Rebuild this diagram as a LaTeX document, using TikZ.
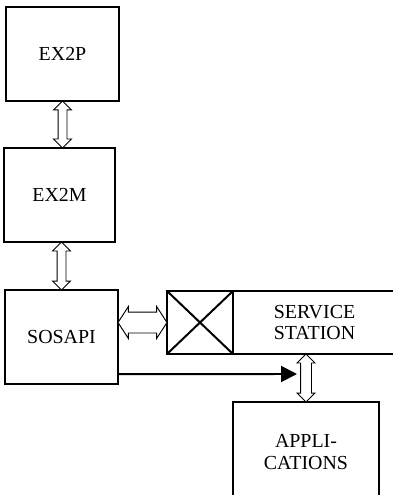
\documentclass[tikz,border=0pt]{standalone}
\usepackage{fontspec}
\setmainfont{Liberation Serif}
\usetikzlibrary{shapes.arrows,arrows.meta}
\begin{document}
\begin{tikzpicture}[x=0.3mm,y=-0.3mm,
box/.style={draw, line width=1.7pt, inner sep=0pt, outer sep=0pt, align=center,
  font=\fontsize{17}{18}\selectfont},
dbl/.style={double arrow, draw, fill=white, line width=0.8pt, inner xsep=0pt, inner ysep=1.2mm,
  sloped, double arrow head extend=1.35mm, minimum height=14.1mm}]
\useasboundingbox (0,0) rectangle (393,495);
\node[box, minimum width=33.9mm, minimum height=28.2mm] (ex2p) at (62.5,54) {EX2P};
\node[box, minimum width=33.3mm, minimum height=28.2mm] (ex2m) at (59.5,195) {EX2M};
\node[box, minimum width=33.9mm, minimum height=28.2mm] (sosapi) at (61.5,337) {SOSAPI};
\node[box, minimum width=19.8mm, minimum height=18.9mm] (cross) at (200,322.5) {};
\node[box, minimum width=48.9mm, minimum height=18.9mm] (station) at (314.5,322.5) {SERVICE\\STATION};
\node[box, minimum width=43.8mm, minimum height=30mm] (apps) at (306,452) {APPLI-\\CATIONS};
\draw[line width=1.7pt] (cross.north west)--(cross.south east) (cross.south west)--(cross.north east);
\path (ex2p.south) -- node[dbl]{} (ex2p.south |- ex2m.north);
\path (sosapi.north |- ex2m.south) -- node[dbl, minimum height=14.4mm]{} (sosapi.north);
\path (sosapi.east |- cross.west) -- node[dbl, minimum height=14.7mm, inner ysep=3mm,
  double arrow head extend=1.65mm, double arrow tip angle=114]{} (cross.west);
\path (apps.north |- station.south) -- node[dbl, minimum height=14.4mm, inner ysep=1.5mm,
  double arrow head extend=1.05mm]{} (apps.north);
\coordinate (hit) at (297,374);
\draw[line width=1.7pt, -{Triangle[length=4.8mm, width=4.8mm]}] ([yshift=3mm]sosapi.south east) -- (hit);
\end{tikzpicture}
\end{document}
